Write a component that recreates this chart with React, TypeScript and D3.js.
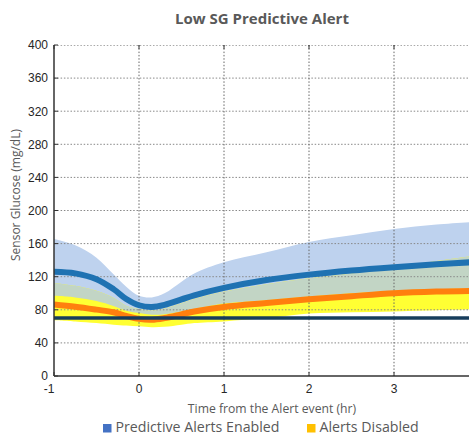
import React from "react";
import * as d3 from "d3";

const times = [-1, -0.75, -0.5, -0.3, -0.15, 0, 0.15, 0.3, 0.5, 0.65, 1, 1.5, 2, 2.5, 3, 3.5, 4];
const enabledUpper = [165.5, 158, 143, 123, 108, 97, 95, 100, 114, 124, 137.5, 149.5, 162, 170, 177.5, 183, 186.5];
const enabledMedian = [126, 124, 117, 105, 93, 85.5, 83.5, 86, 92.5, 97.5, 106.5, 116, 122.5, 127.5, 131.5, 135, 138];
const enabledLower = [97, 95, 90.5, 84.5, 79, 76, 74, 74.5, 78, 81, 87.5, 91.5, 96, 100, 103, 105, 106];
const disabledUpper = [112.5, 109, 103, 94.5, 85, 81, 79, 81.5, 88, 93, 102, 111, 118, 124, 131, 139, 146];
const disabledMedian = [86.5, 83.8, 80.2, 77, 72.5, 69, 68, 70, 74.5, 78, 83.5, 88.3, 92.7, 96.5, 100, 102, 103];
const disabledLower = [67.5, 66, 64, 62, 61, 60, 59, 59.5, 62, 64, 66, 70, 75.5, 77, 78, 79.5, 80.5];
const threshold = 70;

const yTicks = [0, 40, 80, 120, 160, 200, 240, 280, 320, 360, 400];
const xTicks = [-1, 0, 1, 2, 3];
const legendItems = ["Predictive Alerts Enabled", "Alerts Disabled"];

const W = 469;
const H = 435;
const L = 54;
const R = 479;
const T = 45;
const B = 376;

export default function App() {
  const x = d3.scaleLinear().domain([-1, 4]).range([L, R]);
  const y = d3.scaleLinear().domain([0, 400]).range([B, T]);
  const idx = times.map((_, i) => i);
  const curve = d3.curveCatmullRom.alpha(0.5);

  const band = (lo: number[], hi: number[]) =>
    d3
      .area<number>()
      .x((i) => x(times[i]))
      .y0((i) => y(lo[i]))
      .y1((i) => y(hi[i]))
      .curve(curve)(idx) || "";

  const overlapLo = idx.map((i) => Math.max(enabledLower[i], disabledLower[i]));
  const overlapHi = idx.map((i) => Math.max(overlapLo[i], Math.min(enabledUpper[i], disabledUpper[i])));

  const line = (vals: number[]) =>
    d3
      .line<number>()
      .x((i) => x(times[i]))
      .y((i) => y(vals[i]))
      .curve(curve)(idx) || "";

  const font = "'Open Sans', 'Noto Sans', sans-serif";
  const tickFont = "'Liberation Sans', Arial, sans-serif";

  return (
    <svg
      width={W}
      height={H}
      style={{ position: "absolute", left: 0, top: 0, background: "#fff" }}
    >
      <defs>
        <clipPath id="plot">
          <rect x={L} y={T} width={R - L} height={B - T} />
        </clipPath>
      </defs>
      <text
        x={262}
        y={24}
        textAnchor="middle"
        fontFamily={font}
        fontWeight="bold"
        fontSize={15}
        fill="#595959"
      >
        Low SG Predictive Alert
      </text>
      <g clipPath="url(#plot)">
        <path d={band(enabledLower, enabledUpper)} fill="#bed2ee" />
        <path d={band(disabledLower, disabledUpper)} fill="#ffff33" />
        <path d={band(overlapLo, overlapHi)} fill="#c2d5c5" />
        {yTicks.slice(1).map((v) => (
          <line
            key={"gy" + v}
            x1={L}
            x2={R}
            y1={y(v)}
            y2={y(v)}
            stroke={v === 400 ? "#555" : "#888"}
            strokeWidth={1}
            strokeDasharray="1.5,1.8"
          />
        ))}
        {xTicks.slice(1).map((v) => (
          <line
            key={"gx" + v}
            x1={x(v)}
            x2={x(v)}
            y1={T}
            y2={B}
            stroke="#666"
            strokeWidth={1}
            strokeDasharray="1.5,1.8"
          />
        ))}
        <path d={line(disabledMedian)} fill="none" stroke="#ff7f0e" strokeWidth={6} />
        <path d={line(enabledMedian)} fill="none" stroke="#1f72b2" strokeWidth={6} />
        <line
          x1={L}
          x2={R}
          y1={y(threshold)}
          y2={y(threshold)}
          stroke="#173d5c"
          strokeWidth={3.5}
        />
      </g>
      <line x1={L} x2={L} y1={T} y2={B} stroke="#333" strokeWidth={1.5} />
      <line x1={L} x2={R} y1={B} y2={B} stroke="#333" strokeWidth={1.5} />
      {yTicks.map((v) => (
        <g key={"yt" + v}>
          <line x1={L} x2={L + 4} y1={y(v)} y2={y(v)} stroke="#333" strokeWidth={1} />
          <text
            x={48}
            y={y(v)}
            dy="0.36em"
            textAnchor="end"
            fontFamily={tickFont}
            fontSize={12}
            fill="#262626"
          >
            {v}
          </text>
        </g>
      ))}
      {xTicks.map((v) => (
        <g key={"xt" + v}>
          <line x1={x(v)} x2={x(v)} y1={B} y2={B - 4} stroke="#333" strokeWidth={1} />
          <line x1={x(v)} x2={x(v)} y1={T} y2={T + 4} stroke="#333" strokeWidth={1} />
          <text
            x={x(v) - (v < 0 ? 5 : 0)}
            y={393}
            textAnchor="middle"
            fontFamily={tickFont}
            fontSize={12}
            fill="#262626"
          >
            {v}
          </text>
        </g>
      ))}
      <text
        x={272}
        y={413}
        textAnchor="middle"
        fontFamily={font}
        fontSize={12.2}
        fill="#595959"
      >
        Time from the Alert event (hr)
      </text>
      <text
        transform={`translate(20,195) rotate(-90)`}
        textAnchor="middle"
        fontFamily={font}
        fontSize={12}
        fill="#595959"
      >
        Sensor Glucose (mg/dL)
      </text>
      {legendItems.map((label, i) => {
        const lx = i === 0 ? 103 : 307;
        return (
          <g key={label}>
            <rect x={lx} y={424} width={8.5} height={8.5} fill={i === 0 ? "#4472c4" : "#ffc000"} />
            <text x={lx + 12.5} y={432} fontFamily={font} fontSize={14.2} fill="#595959">
              {label}
            </text>
          </g>
        );
      })}
    </svg>
  );
}
